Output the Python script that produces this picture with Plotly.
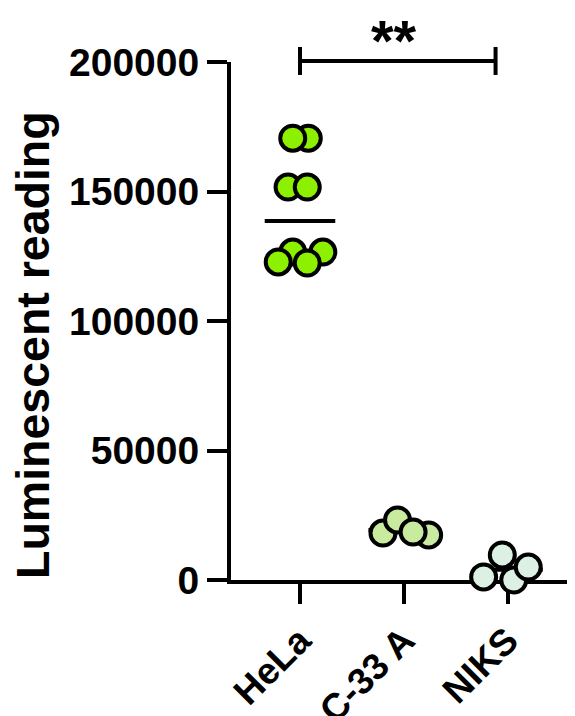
import plotly.graph_objects as go

# ---- data ----
categories = ["HeLa", "C-33 A", "NIKS"]
hela_values = [170600, 170600, 151700, 151700, 126600, 126600, 122800, 122400]
c33a_values = [18100, 23200, 17400, 18500]
niks_values = [1200, 9700, 0, 5000]
mean_values = [138600, 19300, 4000]
y_tick_values = [0, 50000, 100000, 150000, 200000]
y_tick_labels = ["0", "50000", "100000", "150000", "200000"]
y_title = "Luminescent reading"
significance_label = "**"
significance_pair = [0, 1.885]   # bracket spans from HeLa toward NIKS
significance_level = 200400

# ---- styling / layout (positions of jittered points, not data) ----
hela_jitter = [0.08, -0.07, -0.115, 0.07, -0.07, 0.22, -0.21, 0.07]
c33a_jitter = [-0.20, -0.06, 0.24, 0.09]
niks_jitter = [-0.23, -0.05, 0.06, 0.20]
colors = ["#8cf000", "#c8eba0", "#dcf0e4"]
FONT = "Liberation Sans, Arial, Helvetica, sans-serif"
Y_MAX = 200000
PLOT_H = 518
PLOT_W = 343

fig = go.Figure()

# mean lines (drawn under points)
mx, my = [], []
for i, m in enumerate(mean_values):
    mx += [i - 0.34, i + 0.34, None]
    my += [m, m, None]
fig.add_trace(go.Scatter(x=mx, y=my, mode="lines",
                         line=dict(color="black", width=4),
                         hoverinfo="skip", showlegend=False))

groups = [hela_values, c33a_values, niks_values]
jitters = [hela_jitter, c33a_jitter, niks_jitter]
for i, (vals, jit) in enumerate(zip(groups, jitters)):
    fig.add_trace(go.Scatter(
        x=[i + j for j in jit], y=vals, mode="markers",
        marker=dict(size=25, color=colors[i],
                    line=dict(color="black", width=4)),
        cliponaxis=False, showlegend=False, name=categories[i]))

# significance bracket (x in data, y in paper fraction of axis range)
x0, x1 = significance_pair
yb = significance_level / Y_MAX
cap = 14 / PLOT_H
for shp in [dict(x0=x0, x1=x1, y0=yb, y1=yb),
            dict(x0=x0, x1=x0, y0=yb - cap, y1=yb + cap),
            dict(x0=x1, x1=x1, y0=yb - cap, y1=yb + cap)]:
    fig.add_shape(type="line", xref="x", yref="paper",
                  line=dict(color="black", width=4), **shp)
fig.add_annotation(x=(x0 + x1) / 2, y=yb + 20 / PLOT_H, xref="x", yref="paper",
                   text=significance_label, showarrow=False, xshift=-4,
                   font=dict(family=FONT, size=58, color="black", weight="bold"),
                   yanchor="middle")

# y axis title as a rotated annotation
fig.add_annotation(x=-198 / PLOT_W, y=1 - 283 / PLOT_H, xref="paper", yref="paper",
                   text=y_title, showarrow=False, textangle=-90,
                   xanchor="center", yanchor="middle",
                   font=dict(family=FONT, size=46.5, color="black", weight="bold"))

fig.update_layout(
    template="none",
    width=567, height=708,
    margin=dict(l=223, r=1, t=54, b=136, autoexpand=False),
    plot_bgcolor="white", paper_bgcolor="white",
    font=dict(family=FONT, color="black", weight="bold"),
    xaxis=dict(
        range=[-0.665, 2.641], tickmode="array",
        tickvals=list(range(len(categories))), ticktext=categories,
        tickangle=-45, showline=True, linecolor="black", linewidth=4,
        ticks="outside", ticklen=20, tickwidth=4, tickcolor="black",
        showgrid=False, zeroline=False, layer="below traces",
        automargin=False,
        tickfont=dict(family=FONT, size=37, color="black", weight="bold"),
    ),
    yaxis=dict(
        range=[0, Y_MAX], tickmode="array",
        tickvals=y_tick_values, ticktext=y_tick_labels,
        showline=True, linecolor="black", linewidth=4,
        ticks="outside", ticklen=20, tickwidth=4, tickcolor="black",
        showgrid=False, zeroline=False, automargin=False,
        ticklabelstandoff=0,
        tickfont=dict(family=FONT, size=39, color="black", weight="bold"),
    ),
)

fig.write_html("out.html")
